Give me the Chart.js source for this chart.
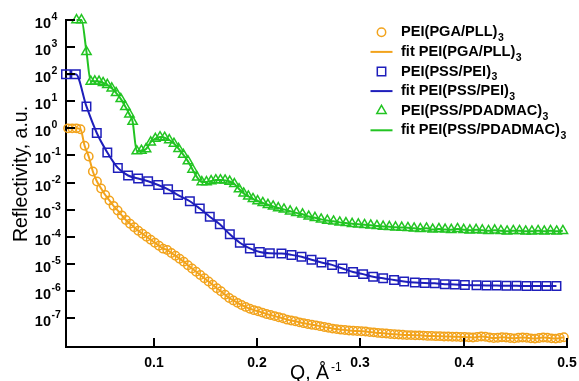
<!DOCTYPE html>
<html>
<head>
<meta charset="utf-8">
<script src="https://cdn.jsdelivr.net/npm/chart.js@4.4.1/dist/chart.umd.min.js"></script>
<style>
  html, body { margin: 0; padding: 0; background: #fff; }
  #wrap { width: 579px; height: 381px; position: relative; }
</style>
</head>
<body>
<div id="wrap"><canvas id="chart" width="579" height="381"></canvas></div>
<script>
/* ══════════════════════════════════════
   Reflectivity curves — three multilayers
══════════════════════════════════════ */

// ── DATA (Q in 1/Å, reflectivity as log10) ──
const seriesNames = ['PEI(PGA/PLL)', 'PEI(PSS/PEI)', 'PEI(PSS/PDADMAC)'];

const qPGA = [
  0.017, 0.021, 0.025, 0.029, 0.033, 0.037, 0.041, 0.045, 0.049, 0.053,
  0.057, 0.061, 0.065, 0.069, 0.073, 0.077, 0.081, 0.085, 0.089, 0.093,
  0.097, 0.101, 0.105, 0.109, 0.113, 0.117, 0.121, 0.125, 0.129, 0.133,
  0.137, 0.141, 0.145, 0.149, 0.153, 0.157, 0.161, 0.165, 0.169, 0.173,
  0.177, 0.181, 0.185, 0.189, 0.193, 0.197, 0.201, 0.205, 0.209, 0.213,
  0.217, 0.221, 0.225, 0.229, 0.233, 0.237, 0.241, 0.245, 0.249, 0.253,
  0.257, 0.261, 0.265, 0.269, 0.273, 0.277, 0.281, 0.285, 0.289, 0.293,
  0.297, 0.301, 0.305, 0.309, 0.313, 0.317, 0.321, 0.325, 0.329, 0.333,
  0.337, 0.341, 0.345, 0.349, 0.353, 0.357, 0.361, 0.365, 0.369, 0.373,
  0.377, 0.381, 0.385, 0.389, 0.393, 0.397, 0.401, 0.405, 0.409, 0.413,
  0.417, 0.421, 0.425, 0.429, 0.433, 0.437, 0.441, 0.445, 0.449, 0.453,
  0.457, 0.461, 0.465, 0.469, 0.473, 0.477, 0.481, 0.485, 0.489, 0.493,
  0.497
];
const logPGA = [
  0.00, 0.00, 0.00, -0.03, -0.64, -1.04, -1.59, -1.96, -2.22, -2.46,
  -2.66, -2.86, -3.03, -3.21, -3.38, -3.52, -3.65, -3.78, -3.89, -4.00,
  -4.11, -4.22, -4.33, -4.44, -4.49, -4.60, -4.70, -4.81, -4.92, -5.05,
  -5.17, -5.29, -5.41, -5.53, -5.65, -5.77, -5.90, -6.01, -6.14, -6.26,
  -6.35, -6.44, -6.52, -6.59, -6.66, -6.71, -6.75, -6.80, -6.85, -6.89,
  -6.93, -6.97, -7.01, -7.06, -7.09, -7.12, -7.16, -7.19, -7.22, -7.25,
  -7.27, -7.30, -7.33, -7.36, -7.39, -7.41, -7.43, -7.44, -7.46, -7.47,
  -7.48, -7.49, -7.50, -7.52, -7.53, -7.55, -7.56, -7.57, -7.59, -7.60,
  -7.61, -7.62, -7.63, -7.63, -7.64, -7.64, -7.65, -7.66, -7.66, -7.67,
  -7.67, -7.68, -7.68, -7.69, -7.69, -7.70, -7.70, -7.71, -7.72, -7.70,
  -7.68, -7.69, -7.72, -7.74, -7.73, -7.71, -7.72, -7.74, -7.75, -7.73,
  -7.72, -7.73, -7.75, -7.76, -7.74, -7.72, -7.73, -7.75, -7.76, -7.74,
  -7.71
];

const qPEI = [
  0.0150, 0.0245, 0.0348, 0.0448, 0.0550, 0.0652, 0.0751, 0.0848, 0.0945, 0.1042,
  0.1138, 0.1235, 0.1349, 0.1445, 0.1542, 0.1639, 0.1736, 0.1833, 0.1930, 0.2026,
  0.2123, 0.2236, 0.2333, 0.2430, 0.2527, 0.2623, 0.2726, 0.2827, 0.2929, 0.3026,
  0.3123, 0.3220, 0.3326, 0.3423, 0.3527, 0.3623, 0.3720, 0.3817, 0.3914, 0.4011,
  0.4124, 0.4221, 0.4318, 0.4414, 0.4511, 0.4608, 0.4705, 0.4801, 0.4898
];
const logPEI = [
  2.00, 2.00, 0.81, -0.17, -0.89, -1.46, -1.74, -1.85, -1.95, -2.09,
  -2.25, -2.46, -2.69, -2.96, -3.26, -3.54, -3.91, -4.22, -4.43, -4.56,
  -4.61, -4.62, -4.67, -4.74, -4.85, -4.95, -5.04, -5.17, -5.30, -5.38,
  -5.48, -5.53, -5.60, -5.65, -5.69, -5.71, -5.72, -5.75, -5.76, -5.78,
  -5.79, -5.80, -5.80, -5.81, -5.81, -5.82, -5.82, -5.82, -5.82
];

const qPDA = [
  0.0252, 0.0300, 0.0348, 0.0390, 0.0429, 0.0470, 0.0509, 0.0550, 0.0593, 0.0635,
  0.0680, 0.0725, 0.0764, 0.0795, 0.0835, 0.0880, 0.0925, 0.0970, 0.1015, 0.1060,
  0.1105, 0.1150, 0.1195, 0.1240, 0.1285, 0.1330, 0.1375, 0.1420, 0.1465, 0.1510,
  0.1555, 0.1600, 0.1645, 0.1690, 0.1735, 0.1780, 0.1825, 0.1870, 0.1915, 0.1960,
  0.2005, 0.2055, 0.2105, 0.2155, 0.2205, 0.2260, 0.2320, 0.2380, 0.2440, 0.2500,
  0.2560, 0.2620, 0.2680, 0.2740, 0.2800, 0.2860, 0.2920, 0.2980, 0.3040, 0.3100,
  0.3160, 0.3220, 0.3280, 0.3340, 0.3400, 0.3460, 0.3520, 0.3580, 0.3640, 0.3700,
  0.3760, 0.3820, 0.3880, 0.3940, 0.4000, 0.4060, 0.4120, 0.4180, 0.4240, 0.4300,
  0.4360, 0.4420, 0.4480, 0.4540, 0.4600, 0.4660, 0.4720, 0.4780, 0.4840, 0.4900,
  0.4960
];
const logPDA = [
  4.00, 4.00, 2.83, 1.73, 1.74, 1.73, 1.68, 1.61, 1.48, 1.31,
  1.09, 0.80, 0.52, 0.25, -0.84, -0.82, -0.76, -0.51, -0.38, -0.32,
  -0.34, -0.43, -0.56, -0.75, -0.97, -1.21, -1.52, -1.81, -1.98, -1.98,
  -1.94, -1.91, -1.91, -1.92, -1.96, -2.05, -2.24, -2.40, -2.51, -2.60,
  -2.68, -2.75, -2.82, -2.88, -2.94, -2.99, -3.06, -3.12, -3.17, -3.25,
  -3.30, -3.36, -3.40, -3.43, -3.47, -3.49, -3.52, -3.54, -3.56, -3.58,
  -3.60, -3.62, -3.63, -3.65, -3.66, -3.67, -3.69, -3.71, -3.69, -3.73,
  -3.71, -3.73, -3.74, -3.71, -3.74, -3.76, -3.74, -3.76, -3.78, -3.76,
  -3.78, -3.80, -3.78, -3.78, -3.80, -3.80, -3.78, -3.80, -3.78, -3.80,
  -3.78
];

// tick labels
const xTicks    = [0.1, 0.2, 0.3, 0.4, 0.5];
const yTickExps = [4, 3, 2, 1, 0, -1, -2, -3, -4, -5, -6, -7];

// ── STYLE ─────────────────────────────
const ORANGE = '#F2A31C';
const BLUE   = '#1E1EBB';
const GREEN  = '#22C422';
const FONT   = '"Liberation Sans", Arial, sans-serif';

const pts = (qs, logs) => qs.map((q, i) => ({ x: q, y: Math.pow(10, logs[i]) }));

function markerSet(label, qs, logs, color, style, r) {
  return {
    label, data: pts(qs, logs), showLine: false, clip: false,
    pointStyle: style, pointRadius: r, pointHoverRadius: r,
    pointBorderColor: color, pointBackgroundColor: 'rgba(0,0,0,0)',
    pointBorderWidth: 1.5, borderColor: color,
  };
}
function fitSet(label, qs, logs, color) {
  return {
    label, data: pts(qs, logs), showLine: true, clip: false,
    borderColor: color, borderWidth: 2, pointRadius: 0,
    cubicInterpolationMode: 'monotone',
  };
}

// ── AXIS DECOR + LEGEND ───────────────
function drawMarker(ctx, kind, x, y, color) {
  ctx.save();
  ctx.strokeStyle = color;
  ctx.lineWidth = kind === 'line' ? 2 : 1.5;
  ctx.beginPath();
  if (kind === 'circle') ctx.arc(x, y, 4.2, 0, Math.PI * 2);
  else if (kind === 'rect') ctx.rect(x - 4.2, y - 4.2, 8.4, 8.4);
  else if (kind === 'triangle') {
    const r = 5.4;
    ctx.moveTo(x, y - r);
    ctx.lineTo(x + r * 0.866, y + r * 0.5);
    ctx.lineTo(x - r * 0.866, y + r * 0.5);
    ctx.closePath();
  } else { ctx.moveTo(x - 11, y); ctx.lineTo(x + 11, y); }
  ctx.stroke();
  ctx.restore();
}

const decor = {
  id: 'decor',
  afterDraw(chart) {
    const { ctx, chartArea: a, scales: { x, y } } = chart;
    ctx.save();
    ctx.strokeStyle = '#000';
    ctx.fillStyle = '#000';
    ctx.lineWidth = 2;

    // y ticks (inward) + 10^n labels
    yTickExps.forEach(e => {
      const py = Math.round(y.getPixelForValue(Math.pow(10, e)));
      ctx.beginPath(); ctx.moveTo(a.left, py); ctx.lineTo(a.left + 9, py); ctx.stroke();
      ctx.font = `bold 14.5px ${FONT}`;
      ctx.textAlign = 'right'; ctx.textBaseline = 'middle';
      ctx.fillText('10', 51, py + 4);
      ctx.font = `bold 10.5px ${FONT}`;
      ctx.textAlign = 'left';
      ctx.fillText(String(e), 51.5, py - 3);
    });

    // x ticks (inward) + labels
    xTicks.forEach(v => {
      const px = Math.round(x.getPixelForValue(v));
      ctx.beginPath(); ctx.moveTo(px, a.bottom); ctx.lineTo(px, a.bottom - 9); ctx.stroke();
      ctx.font = `bold 14px ${FONT}`;
      ctx.textAlign = 'center'; ctx.textBaseline = 'middle';
      ctx.fillText(String(v), px, 363);
    });

    // axis titles
    ctx.font = `19.5px ${FONT}`;
    ctx.textAlign = 'left'; ctx.textBaseline = 'alphabetic';
    ctx.fillText('Q, Å', 290, 379);
    const qw = ctx.measureText('Q, Å').width;
    ctx.font = `12px ${FONT}`;
    ctx.fillText('-1', 290 + qw + 2, 371);

    ctx.save();
    ctx.translate(27, 174);
    ctx.rotate(-Math.PI / 2);
    ctx.font = `19.5px ${FONT}`;
    ctx.textAlign = 'center';
    ctx.fillText('Reflectivity, a.u.', 0, 0);
    ctx.restore();

    // legend
    const rows = [
      ['circle',   ORANGE, seriesNames[0]],
      ['line',     ORANGE, 'fit ' + seriesNames[0]],
      ['rect',     BLUE,   seriesNames[1]],
      ['line',     BLUE,   'fit ' + seriesNames[1]],
      ['triangle', GREEN,  seriesNames[2]],
      ['line',     GREEN,  'fit ' + seriesNames[2]],
    ];
    rows.forEach(([kind, color, text], i) => {
      const ry = 32.3 + i * 19.6;
      drawMarker(ctx, kind, 381.5, ry, color);
      ctx.fillStyle = '#000';
      ctx.font = `bold 14.6px ${FONT}`;
      ctx.textAlign = 'left'; ctx.textBaseline = 'middle';
      ctx.fillText(text, 401, ry);
      const w = ctx.measureText(text).width;
      ctx.font = `bold 10.5px ${FONT}`;
      ctx.fillText('3', 401 + w + 0.5, ry + 6);
    });
    ctx.restore();
  },
};

// ── CHART ─────────────────────────────
new Chart(document.getElementById('chart'), {
  type: 'scatter',
  data: {
    datasets: [
      markerSet(seriesNames[0], qPGA, logPGA, ORANGE, 'circle', 4.2),
      fitSet('fit ' + seriesNames[0], qPGA, logPGA, ORANGE),
      markerSet(seriesNames[1], qPEI, logPEI, BLUE, 'rect', 6.0),
      fitSet('fit ' + seriesNames[1], qPEI, logPEI, BLUE),
      markerSet(seriesNames[2], qPDA, logPDA, GREEN, 'triangle', 5.4),
      fitSet('fit ' + seriesNames[2], qPDA, logPDA, GREEN),
    ],
  },
  options: {
    responsive: false,
    animation: false,
    layout: { padding: { left: 0, right: 12, top: 20, bottom: 0 } },
    plugins: { legend: { display: false }, tooltip: { enabled: false } },
    scales: {
      x: {
        type: 'linear', min: 0.015, max: 0.5,
        grid: { display: false },
        border: { display: true, color: '#000', width: 2 },
        ticks: { display: false },
        afterFit: s => { s.height = 34; },
      },
      y: {
        type: 'logarithmic', min: Math.pow(10, -8.07), max: 1e4,
        grid: { display: false },
        border: { display: true, color: '#000', width: 2 },
        ticks: { display: false },
        afterFit: s => { s.width = 66; },
      },
    },
  },
  plugins: [decor],
});
</script>
</body>
</html>
